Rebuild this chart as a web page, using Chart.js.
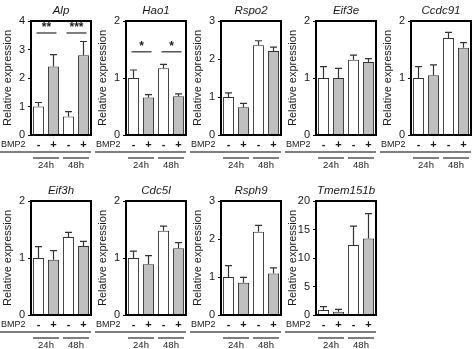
<!DOCTYPE html>
<html>
<head>
<meta charset="utf-8">
<script src="https://cdn.jsdelivr.net/npm/chart.js@4.4.1/dist/chart.umd.min.js"></script>
<style>
  body { margin: 0; background: #fff; overflow: hidden; }
  #fig { position: relative; width: 474px; height: 349px; }
  #fig canvas { position: absolute; }
</style>
</head>
<body>
<div id="fig"></div>
<script>
const genes = ['Alp', 'Hao1', 'Rspo2', 'Eif3e', 'Ccdc91', 'Eif3h', 'Cdc5l', 'Rsph9', 'Tmem151b'];
const bmp2 = ['-', '+', '-', '+'];
const times = ['24h', '48h'];
const yMax = [4, 2, 3, 2, 2, 2, 2, 3, 20];
const yStep = [1, 1, 1, 1, 1, 1, 1, 1, 5];

// mean and SD per condition: 24h -, 24h +, 48h -, 48h +
const alpMean = [1.0, 2.4, 0.65, 2.8];
const alpSd = [0.14, 0.42, 0.17, 0.48];
const hao1Mean = [1.0, 0.66, 1.17, 0.68];
const hao1Sd = [0.14, 0.05, 0.07, 0.04];
const rspo2Mean = [1.0, 0.73, 2.36, 2.21];
const rspo2Sd = [0.11, 0.10, 0.12, 0.10];
const eif3eMean = [1.0, 1.0, 1.32, 1.28];
const eif3eSd = [0.2, 0.17, 0.08, 0.06];
const ccdc91Mean = [1.0, 1.05, 1.70, 1.53];
const ccdc91Sd = [0.2, 0.18, 0.10, 0.09];
const eif3hMean = [1.0, 0.97, 1.37, 1.21];
const eif3hSd = [0.2, 0.16, 0.08, 0.08];
const cdc5lMean = [1.0, 0.89, 1.48, 1.17];
const cdc5lSd = [0.12, 0.15, 0.08, 0.10];
const rsph9Mean = [1.0, 0.85, 2.19, 1.09];
const rsph9Sd = [0.30, 0.14, 0.17, 0.15];
const tmem151bMean = [0.87, 0.58, 12.3, 13.4];
const tmem151bSd = [0.6, 0.42, 3.3, 4.4];

// significance bars (height on y axis) and their star labels
const alpSig = [3.58, 3.58];
const alpStars = ['**', '***'];
const hao1Sig = [1.46, 1.46];
const hao1Stars = ['*', '*'];

const means = [alpMean, hao1Mean, rspo2Mean, eif3eMean, ccdc91Mean, eif3hMean, cdc5lMean, rsph9Mean, tmem151bMean];
const sds = [alpSd, hao1Sd, rspo2Sd, eif3eSd, ccdc91Sd, eif3hSd, cdc5lSd, rsph9Sd, tmem151bSd];
const sigs = { 0: [alpSig, alpStars], 1: [hao1Sig, hao1Stars] };

const FONT = '"Liberation Sans", Arial, sans-serif';
const INK = '#1a1a1a';

function decor(i) {
  return {
    id: 'decor' + i,
    afterDatasetsDraw(chart) {
      const ctx = chart.ctx, y = chart.scales.y;
      ctx.save();
      ctx.strokeStyle = '#333';
      ctx.lineWidth = 1.2;
      chart.getDatasetMeta(0).data.forEach((bar, k) => {
        const top = y.getPixelForValue(means[i][k] + sds[i][k]);
        ctx.beginPath();
        ctx.moveTo(bar.x, bar.y);
        ctx.lineTo(bar.x, top);
        ctx.moveTo(bar.x - 3.5, top);
        ctx.lineTo(bar.x + 3.5, top);
        ctx.stroke();
      });
      ctx.restore();
    },
    afterDraw(chart) {
      const ctx = chart.ctx, a = chart.chartArea;
      const x = chart.scales.x, y = chart.scales.y;
      ctx.save();

      // plot frame
      ctx.strokeStyle = '#000';
      ctx.lineWidth = 2;
      ctx.strokeRect(a.left, a.top, a.right - a.left, a.bottom - a.top);

      ctx.fillStyle = INK;
      ctx.textAlign = 'center';
      ctx.textBaseline = 'middle';

      ctx.font = 'italic 11.5px ' + FONT;
      ctx.fillText(genes[i], (a.left + a.right) / 2, 11);

      ctx.save();
      ctx.translate(8, (a.top + a.bottom) / 2);
      ctx.rotate(-Math.PI / 2);
      ctx.font = '11px ' + FONT;
      ctx.fillText('Relative expression', 0, 0);
      ctx.restore();

      // treatment row
      ctx.textAlign = 'left';
      ctx.font = '9px ' + FONT;
      ctx.fillText('BMP2', 1, 145);
      ctx.textAlign = 'center';
      ctx.font = 'bold 11px ' + FONT;
      bmp2.forEach((s, k) => ctx.fillText(s, x.getPixelForValue(k), 145));

      ctx.strokeStyle = '#555';
      ctx.lineWidth = 1.5;
      ctx.beginPath();
      ctx.moveTo(0, 152);
      ctx.lineTo(a.right, 152);
      ctx.stroke();

      // time groups
      ctx.font = '9.5px ' + FONT;
      times.forEach((t, g) => {
        const x0 = x.getPixelForValue(2 * g), x1 = x.getPixelForValue(2 * g + 1);
        ctx.beginPath();
        ctx.moveTo(x0 - 5.5, 158);
        ctx.lineTo(x1 + 5.5, 158);
        ctx.stroke();
        ctx.fillText(t, (x0 + x1) / 2, 165);
      });

      // significance markers
      if (sigs[i]) {
        const [lv, st] = sigs[i];
        lv.forEach((v, g) => {
          const yy = y.getPixelForValue(v);
          const x0 = x.getPixelForValue(2 * g) - 2, x1 = x.getPixelForValue(2 * g + 1) + 3;
          ctx.beginPath();
          ctx.moveTo(x0, yy);
          ctx.lineTo(x1, yy);
          ctx.stroke();
          ctx.font = 'bold 12px ' + FONT;
          ctx.fillText(st[g], (x0 + x1) / 2, yy - 5);
        });
      }
      ctx.restore();
    }
  };
}

const fig = document.getElementById('fig');
genes.forEach((gene, i) => {
  const row = i < 5 ? 0 : 1, col = i < 5 ? i : i - 5;
  const cv = document.createElement('canvas');
  cv.width = 95;
  cv.height = 170;
  cv.style.left = (col * 95) + 'px';
  cv.style.top = (row * 180) + 'px';
  fig.appendChild(cv);

  new Chart(cv.getContext('2d'), {
    type: 'bar',
    data: {
      labels: bmp2,
      datasets: [{
        data: means[i],
        backgroundColor: ['#ffffff', '#c0c0c0', '#ffffff', '#c0c0c0'],
        borderColor: '#333',
        borderWidth: 1,
        barPercentage: 0.74,
        categoryPercentage: 1
      }]
    },
    options: {
      responsive: false,
      animation: false,
      devicePixelRatio: 1,
      layout: { padding: { top: 21, left: 0, right: 4, bottom: 0 } },
      plugins: { legend: { display: false }, tooltip: { enabled: false } },
      scales: {
        x: {
          grid: { display: false },
          border: { display: false },
          ticks: { display: false },
          afterFit(s) { s.height = 35; }
        },
        y: {
          min: 0,
          max: yMax[i],
          ticks: { stepSize: yStep[i], color: INK, padding: 3, font: { family: FONT, size: 11 } },
          grid: { drawOnChartArea: false, tickLength: 3, color: '#000' },
          border: { display: false },
          afterFit(s) { s.width = 31; }
        }
      }
    },
    plugins: [decor(i)]
  });
});
</script>
</body>
</html>
